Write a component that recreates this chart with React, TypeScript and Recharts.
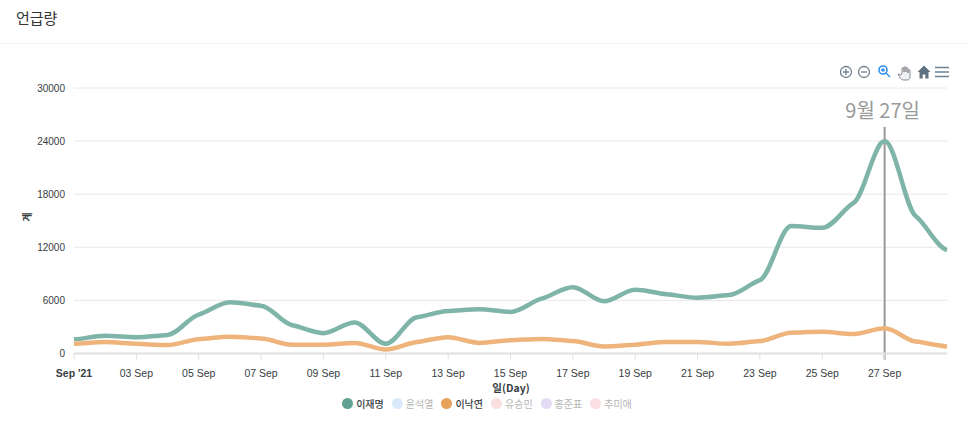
import React from 'react';
import { LineChart, Line, XAxis, YAxis, CartesianGrid, ReferenceLine, ReferenceDot, Legend } from 'recharts';

const days = [1,2,3,4,5,6,7,8,9,10,11,12,13,14,15,16,17,18,19,20,21,22,23,24,25,26,27,28,29];
const leeJM = [1600,2000,1850,2100,4400,5800,5400,3200,2300,3500,1100,4100,4800,5000,4700,6200,7500,5900,7200,6700,6300,6600,8300,14400,14200,17000,24000,15500,11700];
const leeNY = [1100,1300,1100,950,1600,1900,1700,1000,1000,1200,450,1300,1850,1200,1500,1650,1400,800,1000,1300,1300,1100,1400,2350,2450,2200,2850,1350,800];
const yTicks = [0,6000,12000,18000,24000,30000];
const xTickDays = [1,3,5,7,9,11,13,15,17,19,21,23,25,27];
const legendNames = ['이재명','윤석열','이낙연','유승민','홍준표','추미애'];
const legendColors = ['#5fa192','#dbeafb','#e8a15a','#fbdfe0','#e3dcf5','#fbdde6'];
const legendActive = [true,false,true,false,false,false];
const title = '언급량';
const peakLabel = '9월 27일';
const xTitle = '일(Day)';
const yTitle = '계';

const data = days.map((d, i) => ({ day: d, a: leeJM[i], b: leeNY[i] }));
const latin = '"Liberation Sans", "Noto Sans CJK KR", sans-serif';
const korean = '"Noto Sans CJK KR", "Liberation Sans", sans-serif';

// Monotone-style curve with softened tangents, giving the flat shoulders at each data point.
const softCurve = (ctx: any) => {
  let pts: [number, number][] = [];
  const k = 0.35;
  return {
    areaStart() {},
    areaEnd() {},
    lineStart() { pts = []; },
    point(x: number, y: number) { pts.push([+x, +y]); },
    lineEnd() {
      const n = pts.length;
      if (!n) return;
      const slope = (a: [number, number], b: [number, number]) => (b[1] - a[1]) / (b[0] - a[0]);
      const m = pts.map((p, i) => {
        if (i === 0) return slope(p, pts[1]) * 0.5;
        if (i === n - 1) return slope(pts[i - 1], p) * 0.25;
        const s0 = slope(pts[i - 1], p);
        const s1 = slope(p, pts[i + 1]);
        if (s0 * s1 <= 0) return 0;
        return Math.sign(s0) * 2 * Math.min(Math.abs(s0), Math.abs(s1)) * k;
      });
      ctx.moveTo(pts[0][0], pts[0][1]);
      for (let i = 1; i < n; i++) {
        const [x0, y0] = pts[i - 1];
        const [x1, y1] = pts[i];
        const h = (x1 - x0) / 3;
        ctx.bezierCurveTo(x0 + h, y0 + h * m[i - 1], x1 - h, y1 - h * m[i], x1, y1);
      }
    },
  };
};

const XTick = (p: any) => {
  const d = p.payload.value;
  const first = d === 1;
  const text = first ? "Sep '21" : `${String(d).padStart(2, '0')} Sep`;
  return (
    <g>
      <line x1={p.x} x2={p.x} y1={p.axisY} y2={p.axisY + 6} stroke="#e0e0e0" />
      <text x={p.x} y={p.axisY + 23} textAnchor="middle" fontSize={10.5} fontFamily={latin} fontWeight={first ? 700 : 400} fill="#373d3f">{text}</text>
    </g>
  );
};

const LegendBox = () => (
  <div style={{ display: 'flex', justifyContent: 'center', fontFamily: korean, fontSize: 10, gap: 8 }}>
    {legendNames.map((n, i) => (
      <span key={n} style={{ display: 'flex', alignItems: 'center', gap: 3, color: legendActive[i] ? '#373d3f' : '#b5b5b5', fontWeight: legendActive[i] ? 500 : 400 }}>
        <i style={{ width: 11, height: 11, borderRadius: 6, background: legendColors[i], display: 'block' }} />
        {n}
      </span>
    ))}
  </div>
);

const Toolbar = () => (
  <svg width={110} height={20} style={{ position: 'absolute', left: 840, top: 62 }} fill="none">
    <g stroke="#6e8192" strokeWidth={1.3}>
      <circle cx={6} cy={10} r={5.5} />
      <path d="M3 10h6M6 7v6" />
      <circle cx={24} cy={10} r={5.5} />
      <path d="M21 10h6" />
    </g>
    <g stroke="#2f8fe8" strokeWidth={1.6}>
      <circle cx={43} cy={8} r={4} />
      <path d="M46 11l4 4M41 8h4M43 6v4" strokeWidth={1.3} />
    </g>
    <path d="M58 12l2 4c1 1 2 2 4 2h3c2 0 3-1 3-3V8h-2v3-5h-2v4-5h-2v5-4h-2v5l-1 2z" fill="#eef0f2" stroke="#8b8f94" strokeWidth={1} />
    <path d="M84 3.5L77.5 10h2v6.5h3.2v-4h2.6v4h3.2V10h2z" fill="#5f7383" />
    <path d="M95 5.5h14M95 10h14M95 14.5h14" stroke="#6e8192" strokeWidth={1.6} />
  </svg>
);

export default function App() {
  return (
    <div style={{ position: 'absolute', left: 0, top: 0, width: 966, height: 438, background: '#fff', overflow: 'hidden' }}>
      <div style={{ position: 'absolute', left: 16, top: 7, fontFamily: korean, fontSize: 15, color: '#333' }}>{title}</div>
      <div style={{ position: 'absolute', left: 0, top: 43, width: 966, height: 1, background: '#f3f3f3' }} />
      <Toolbar />
      <div style={{ position: 'absolute', left: 0, top: 0 }}>
        <LineChart width={966} height={438} data={data} margin={{ top: 88, right: 19, bottom: 54.5, left: 0 }}>
          <CartesianGrid horizontal vertical={false} stroke="#e8e8e8" />
          <XAxis dataKey="day" type="number" domain={[1, 29]} ticks={xTickDays} interval={0} tick={(p: any) => <XTick {...p} axisY={353.5} />} tickLine={false} axisLine={{ stroke: '#e0e0e0', strokeWidth: 2 }} height={30} />
          <YAxis type="number" domain={[0, 30000]} ticks={yTicks} width={74} axisLine={false} tickLine={false} tick={{ fontSize: 10, fill: '#373d3f', fontFamily: latin, dx: -1 }} />
          <ReferenceLine segment={[{ x: 27, y: -700 }, { x: 27, y: 25600 }]} stroke="#999" strokeWidth={2} ifOverflow="visible" />
          <Line dataKey="a" name={legendNames[0]} type={softCurve as any} stroke="#7fb4a8" strokeWidth={4.5} dot={false} isAnimationActive={false} />
          <Line dataKey="b" name={legendNames[2]} type={softCurve as any} stroke="#eeb47c" strokeWidth={4.5} dot={false} isAnimationActive={false} />
          <ReferenceDot x={27} y={25600} r={0} fill="none" stroke="none" ifOverflow="visible" label={{ value: peakLabel, position: 'top', dy: -4, dx: -2, fontSize: 20, fill: '#999', fontFamily: korean }} />
          <Legend verticalAlign="middle" align="center" content={<LegendBox />} wrapperStyle={{ position: 'absolute', left: 0, top: 396, width: 974 }} />
        </LineChart>
      </div>
      <div style={{ position: 'absolute', left: 461, width: 100, top: 381, textAlign: 'center', fontFamily: korean, fontSize: 10.5, fontWeight: 700, color: '#373d3f', lineHeight: '13px' }}>{xTitle}</div>
      <div style={{ position: 'absolute', left: 17, width: 20, top: 210, textAlign: 'center', transform: 'rotate(-90deg)', fontFamily: korean, fontSize: 10, fontWeight: 700, color: '#373d3f', lineHeight: '14px' }}>{yTitle}</div>
    </div>
  );
}
